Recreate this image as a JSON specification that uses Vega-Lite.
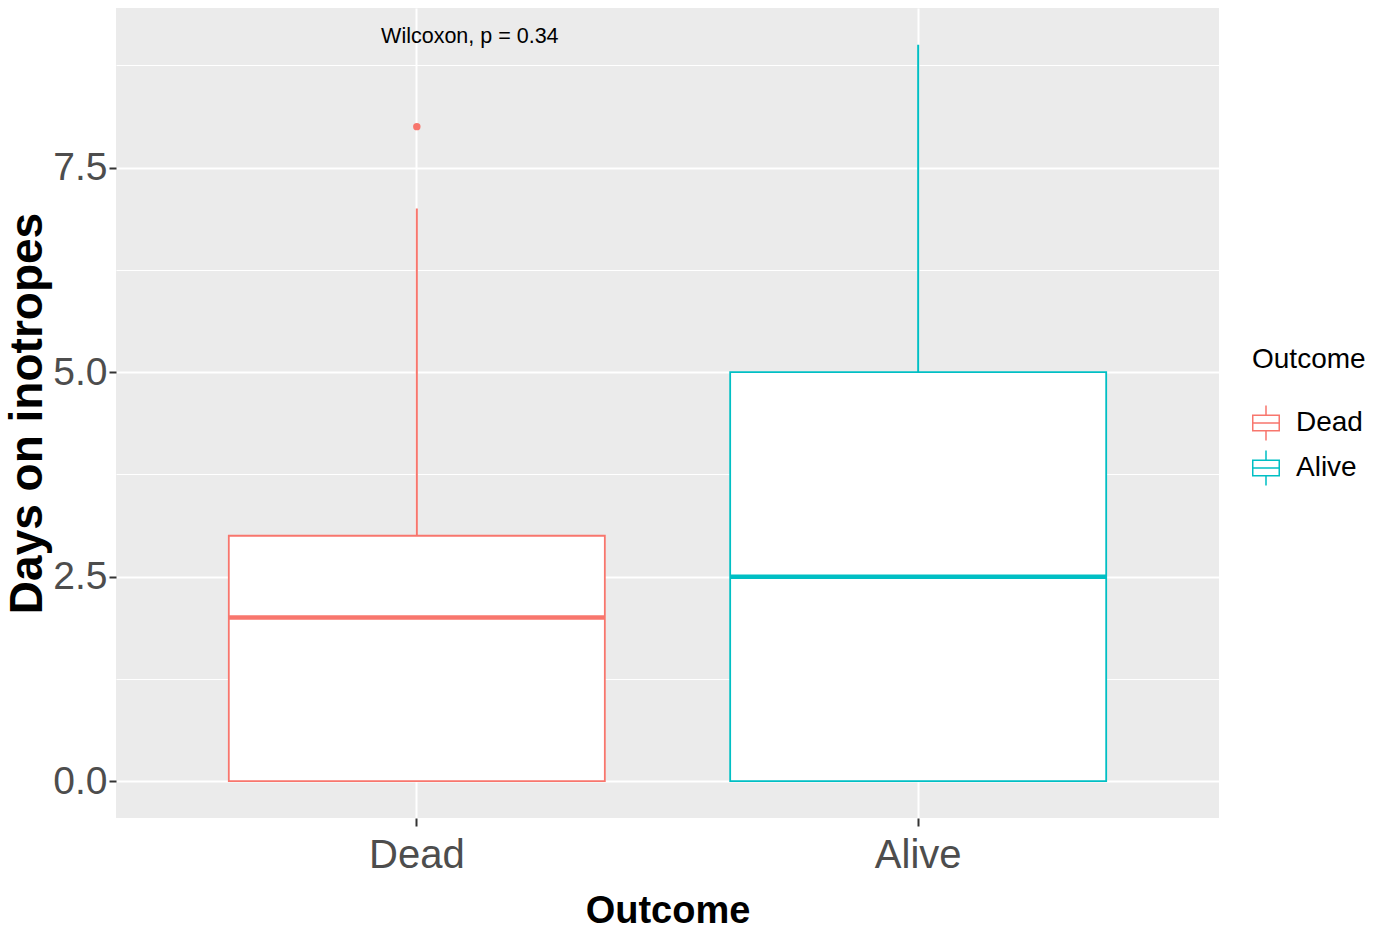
{
  "$schema": "https://vega.github.io/schema/vega-lite/v6.json",
  "width": 1103,
  "height": 810,
  "autosize": {"type": "none"},
  "padding": {"left": 116, "top": 8, "right": 167, "bottom": 114},
  "background": "white",
  "config": {
    "view": {"fill": "#EBEBEB", "stroke": null},
    "font": "Liberation Sans"
  },
  "datasets": {
    "stats": [
      {"Outcome": "Dead", "lower": 0, "q1": 0, "median": 2, "q3": 3, "upper": 7},
      {"Outcome": "Alive", "lower": 0, "q1": 0, "median": 2.5, "q3": 5, "upper": 9}
    ],
    "outliers": [
      {"Outcome": "Dead", "value": 8}
    ]
  },
  "encoding": {
    "x": {"field": "Outcome", "type": "nominal", "sort": ["Dead", "Alive"],
          "scale": {"domain": ["Dead", "Alive"], "paddingInner": 0.25, "paddingOuter": 0.225},
          "axis": {"title": "Outcome", "labelAngle": 0, "labelAlign": "center", "labelBaseline": "top",
                   "labelFontSize": 40, "labelColor": "#4D4D4D",
                   "labelFont": "Liberation Sans", "tickColor": "#333333", "tickSize": 8, "tickWidth": 2,
                   "domain": false, "grid": true, "gridColor": "white", "gridWidth": 2, "bandPosition": 0.5,
                   "labelPadding": 9, "titleFont": "Liberation Sans", "titleFontWeight": "bold",
                   "titleFontSize": 38, "titleColor": "black", "titlePadding": 17}},
    "color": {"field": "Outcome", "type": "nominal",
              "scale": {"domain": ["Dead", "Alive"], "range": ["#F8766D", "#00BFC4"]},
              "legend": null}
  },
  "layer": [
    {
      "data": {"name": "stats"},
      "mark": {"type": "rule", "strokeWidth": 2},
      "encoding": {
        "y": {"field": "q3", "type": "quantitative",
              "scale": {"domain": [-0.45, 9.45], "nice": false, "zero": false},
              "axis": {"orient": "right", "values": [1.25, 3.75, 6.25, 8.75], "labels": false, "ticks": false,
                       "domain": false, "grid": true, "gridColor": "white", "gridWidth": 1, "title": null}},
        "y2": {"field": "upper"},
        "color": {"field": "Outcome", "type": "nominal",
                  "legend": {"title": "Outcome", "orient": "none", "legendX": 1136, "legendY": 338,
                             "titleFont": "Liberation Sans", "titleFontSize": 28, "titleFontWeight": "normal",
                             "titleColor": "black", "titlePadding": 35,
                             "labelFont": "Liberation Sans", "labelFontSize": 28, "labelColor": "black",
                             "labelOffset": 16, "rowPadding": 9,
                             "symbolType": "M-1,-0.6H1V0.6H-1Z M-0.893,-0.493V0.493H0.893V-0.493Z M-0.893,-0.054H0.893V0.054H-0.893Z M-0.054,-1.25H0.054V-0.6H-0.054Z M-0.054,0.6H0.054V1.25H-0.054Z",
                             "symbolSize": 784, "symbolStrokeWidth": 0}}
      }
    },
    {
      "data": {"name": "stats"},
      "mark": {"type": "bar", "filled": false, "fill": "white", "strokeWidth": 1.8},
      "encoding": {
        "y": {"field": "q1", "type": "quantitative",
              "axis": {"orient": "left", "values": [0, 2.5, 5, 7.5], "format": ".1f", "labelFontSize": 39,
                       "labelColor": "#4D4D4D", "labelFont": "Liberation Sans", "tickColor": "#333333",
                       "tickSize": 7, "tickWidth": 2, "domain": false, "grid": true, "gridColor": "white",
                       "gridWidth": 2, "labelPadding": 2, "title": "Days on inotropes",
                       "titleFont": "Liberation Sans", "titleFontWeight": "bold", "titleFontSize": 46,
                       "titleColor": "black", "titlePadding": 1}},
        "y2": {"field": "q3"}
      }
    },
    {
      "data": {"name": "stats"},
      "mark": {"type": "tick", "thickness": 4.5, "size": 376, "orient": "horizontal", "opacity": 1},
      "encoding": {
        "y": {"field": "median", "type": "quantitative", "axis": null}
      }
    },
    {
      "data": {"name": "outliers"},
      "mark": {"type": "point", "filled": true, "opacity": 1, "size": 55},
      "encoding": {
        "y": {"field": "value", "type": "quantitative", "axis": null}
      }
    },
    {
      "data": {"values": [{"label": "Wilcoxon, p = 0.34"}]},
      "mark": {"type": "text", "fontSize": 21.5, "font": "Liberation Sans", "dx": 53},
      "encoding": {
        "x": {"datum": "Dead"},
        "y": {"datum": 9.1, "type": "quantitative", "axis": null},
        "text": {"field": "label", "type": "nominal"},
        "color": {"value": "black"}
      }
    }
  ],
  "resolve": {"axis": {"y": "independent"}}
}
